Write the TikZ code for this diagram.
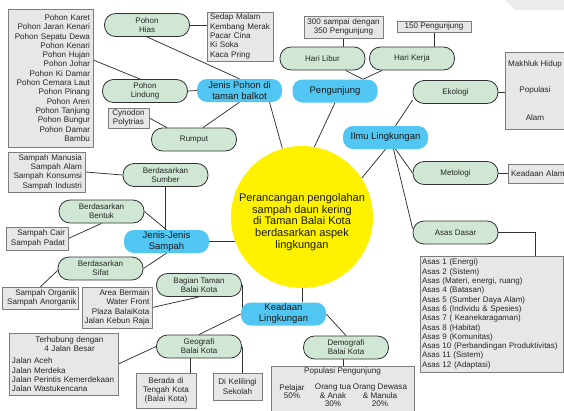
\documentclass[tikz,border=0pt]{standalone}
\usepackage{fontspec}
\setmainfont{Liberation Sans}
\usetikzlibrary{backgrounds,calc}
\definecolor{bluen}{RGB}{82,198,242}
\definecolor{greenn}{RGB}{207,231,212}
\definecolor{grayn}{RGB}{230,231,232}
\definecolor{yel}{RGB}{255,241,0}
\definecolor{edgec}{RGB}{50,50,50}
\definecolor{gedge}{RGB}{125,125,125}
\definecolor{topgray}{RGB}{236,236,236}
\begin{document}
\begin{tikzpicture}[x=1pt,y=-1pt,
  bn/.style={fill=bluen, rounded corners=10pt, minimum width=85pt, minimum height=23pt, inner sep=0pt, align=center, font=\fontsize{9.5}{11}\selectfont, text=black!90},
  gn/.style={fill=greenn, draw=edgec, line width=0.8pt, rounded corners=11pt, minimum width=85pt, minimum height=23pt, inner sep=0pt, align=center, font=\fontsize{8}{9}\selectfont, text=black!85},
  gb/.style={fill=grayn, draw=gedge, line width=0.6pt, inner xsep=3pt, inner ysep=1.5pt, font=\fontsize{8.1}{9.3}\selectfont, text=black!85},
  txt/.style={inner sep=0pt, align=center, font=\fontsize{8.1}{8.6}\selectfont, text=black!85},
  ctext/.style={inner sep=0pt, align=center, font=\fontsize{11}{11.6}\selectfont, text=black!90},
  ln/.style={draw=edgec, line width=0.75pt}]
\useasboundingbox (0,0) rectangle (564,410);

% left top
\node[gn] (ph) at (147,25) {Pohon\\Hias};
\node[gb, minimum width=66pt, minimum height=49pt, text width=60pt, align=left] (sd) at (240,36.5) {Sedap Malam\\Kembang Merak\\Pacar Cina\\Ki Soka\\Kaca Pring};
\node[gb, minimum width=85pt, minimum height=138pt, text width=79pt, align=right] (kr) at (50.5,78) {Pohon Karet\\Pohon Jaran Kenari\\Pohon Sepatu Dewa\\Pohon Kenari\\Pohon Hujan\\Pohon Johar\\Pohon Ki Damar\\Pohon Cemara Laut\\Pohon Pinang\\Pohon Aren\\Pohon Tanjung\\Pohon Bungur\\Pohon Damar\\Bambu};
\node[gn] (pl) at (145,91) {Pohon\\Lindung};
\node[bn] (jp) at (239.5,90.5) {Jenis Pohon di\\taman balkot};
\node[gb, minimum width=41pt, minimum height=20pt, text width=37pt, inner xsep=2pt, align=center] (cy) at (128.5,118) {Cynodon\\Polytrias};
\node[gn] (rp) at (194,139.5) {Rumput};

% top middle
\node[bn] (pg) at (335,91) {Pengunjung};
\node[gn] (hl) at (322.5,58.5) {Hari Libur};
\node[gn] (hk) at (412,58.5) {Hari Kerja};
\node[gb, minimum width=79pt, minimum height=22pt, text width=75pt, inner xsep=2pt, align=center] (b300) at (343.5,27) {300 sampai dengan\\350 Pengunjung};
\node[gb, minimum width=74pt, minimum height=11pt, inner ysep=0.5pt] (b150) at (434,26.5) {150 Pengunjung};

% right
\node[bn] (il) at (385.5,137.5) {Ilmu Lingkungan};
\node[gn] (ek) at (455.5,92) {Ekologi};
\node[gb, minimum width=58pt, minimum height=77pt, align=center] (mh) at (535,90.5) {Makhluk Hidup\\[17pt]Populasi\\[19pt]Alam};
\node[gn] (mt) at (455.5,173) {Metologi};
\node[gb, minimum width=62pt, minimum height=19pt, text width=56pt, align=left] (ka) at (539,173.5) {Keadaan Alam};
\node[gn] (ad) at (455.5,232.5) {Asas Dasar};
\node[gb, minimum width=143pt, minimum height=116pt, text width=139pt, inner xsep=2pt, align=left, font=\fontsize{8}{9.3}\selectfont] (as) at (491.5,314) {Asas 1 (Energi)\\Asas 2 (Sistem)\\Asas (Materi, energi, ruang)\\Asas 4 (Batasan)\\Asas 5 (Sumber Daya Alam)\\Asas 6 (Individu \& Spesies)\\Asas 7 ( Keanekaragaman)\\Asas 8 (Habitat)\\Asas 9 (Komunitas)\\\mbox{Asas 10 (Perbandingan Produktivitas)}\\Asas 11 (Sistem)\\Asas 12 (Adaptasi)};

% left middle
\node[bn] (js) at (166.5,241.5) {Jenis-Jenis\\Sampah};
\node[gn] (bs) at (165.5,175) {Berdasarkan\\Sumber};
\node[gb, minimum width=77pt, minimum height=40pt, text width=71pt, align=right] (sm) at (46.5,172) {Sampah Manusia\\Sampah Alam\\Sampah Konsumsi\\Sampah Industri};
\node[gn] (bb) at (101.5,211.5) {Berdasarkan\\Bentuk};
\node[gb, minimum width=62pt, minimum height=23pt, text width=56pt, align=right] (sc) at (37,238.5) {Sampah Cair\\Sampah Padat};
\node[gn] (sf) at (100.5,268.5) {Berdasarkan\\Sifat};
\node[gb, minimum width=76pt, minimum height=22pt, text width=72pt, inner xsep=2pt, align=right] (so) at (40.5,298) {Sampah Organik\\Sampah Anorganik};

% bottom
\node[gn] (bt) at (199,285) {Bagian Taman\\Balai Kota};
\node[gb, minimum width=70pt, minimum height=41pt, text width=65pt, inner xsep=2.5pt, align=right] (ab) at (117,307.5) {Area Bermain\\Water Front\\Plaza BalaiKota\\Jalan Kebun Raja};
\node[gb, minimum width=109pt, minimum height=62pt, text width=103pt, align=left] (th) at (63.5,364) {\makebox[103pt]{\hspace*{12pt}Terhubung dengan}\\\makebox[103pt]{\hspace*{12pt}4 Jalan Besar}\\[3pt]Jalan Aceh\\Jalan Merdeka\\Jalan Perintis Kemerdekaan\\Jalan Wastukencana};
\node[gn] (gg) at (199,346.5) {Geografi\\Balai Kota};
\node[gb, minimum width=60pt, minimum height=35pt, text width=56pt, inner xsep=2pt, align=center] (bd) at (166,390.5) {Berada di\\Tengah Kota\\(Balai Kota)};
\node[gb, minimum width=49pt, minimum height=27pt, text width=45pt, inner xsep=2pt, align=center] (dk) at (237.5,386.5) {Di Kelilingi\\Sekolah};
\node[bn] (kl) at (283.5,314) {Keadaan\\Lingkungan};
\node[gn] (dg) at (346,347.5) {Demografi\\Balai Kota};
\node[gb, minimum width=143pt, minimum height=48pt] (pop) at (342.5,390) {};
\node[txt] (popt) at (342.5,371) {Populasi Pengunjung};
\node[txt] (pc1) at (292,391.5) {Pelajar\\50\%};
\node[txt] (pc2) at (333,395.5) {Orang tua\\\& Anak\\30\%};
\node[txt] (pc3) at (380,395.5) {Orang Dewasa\\\& Manula\\20\%};

% centre
\node[circle, fill=yel, minimum size=142pt, inner sep=0pt] (cc) at (302,217) {};
\node[ctext] (cct) at (302,222) {Perancangan pengolahan\\sampah daun kering\\di Taman Balai Kota\\berdasarkan aspek\\lingkungan};

\begin{pgfonlayer}{background}
\fill[white] (0,0) rectangle (564,410);
\fill[topgray] (505,0) -- (564,0) -- (564,10) -- (515,10) -- cycle;
% jenis pohon
\draw[ln] (ph.south) -- (jp.north);
\draw[ln] (ph.east) -- (ph.east -| sd.west);
\draw[ln] (pl.east) -- (jp.west);
\draw[ln] ([xshift=-5pt]pl.north) -- ($(kr.north east)!0.37!(kr.south east)$);
\draw[ln] (jp.south) -- ([xshift=9pt]rp.north);
\draw[ln] (cy.east) -- ([xshift=-27pt]rp.north);
% pengunjung
\coordinate (pgj) at ([xshift=28pt]pg.north);
\draw[ln] ([xshift=23pt]hl.south) -- (pgj) -- ([xshift=-30pt]hk.south);
\draw[ln] (b300.south) -- (b300.south |- hl.north);
\draw[ln] (b150.south) -- (b150.south |- hk.north);
% centre links
\draw[ln] ([xshift=30pt]jp.south) -- (cc.106);
\draw[ln] (pg.south) -- (cc.80);
\draw[ln] (il.south) -- (cc.33);
\draw[ln] (js.east) -- (js.east -| cc.center);
\draw[ln] (cc.south) -- (cc.south |- kl.north);
% ilmu lingkungan
\draw[ln] ([xshift=10pt]il.north) -- ([yshift=-8pt]ek.west);
\draw[ln] (ek.east) -- (ek.east -| mh.west);
\draw[ln] ([xshift=10pt]il.south) -- (mt.west);
\draw[ln] ([xshift=8pt]il.south) -- ([yshift=4pt]ad.west);
\draw[ln] (mt.east) -- (mt.east -| ka.west);
\draw[ln] (ad.east) -| ([xshift=44pt]as.north);
% sampah
\draw[ln] (bs.south) -- (bs.south |- js.north);
\draw[ln] (bb.east) -- (js.north);
\draw[ln] (bb.south) -- (sc.east);
\draw[ln] (sm.east) -- (bs.west);
\draw[ln] (js.south) -- (sf.east);
\draw[ln] ([yshift=-2pt]sf.west) -- (so.north);
% keadaan lingkungan
\draw[ln] (bt.east) -- (bt.east |- kl.west);
\draw[ln] (ab.east) -- (bt.south);
\draw[ln] (kl.west) -- (gg.north);
\draw[ln] (th.east) -- (gg.west);
\draw[ln] ([xshift=-6pt]bd.north east) -- ([xshift=-6pt]bd.north east |- gg.south);
\draw[ln] (gg.east) -- (gg.east |- dk.north);
\draw[ln] (kl.east) -- (dg.north);
\draw[ln] ([xshift=-3pt]dg.south) -- ([xshift=-3pt]dg.south |- pop.north);
\end{pgfonlayer}
\end{tikzpicture}
\end{document}
